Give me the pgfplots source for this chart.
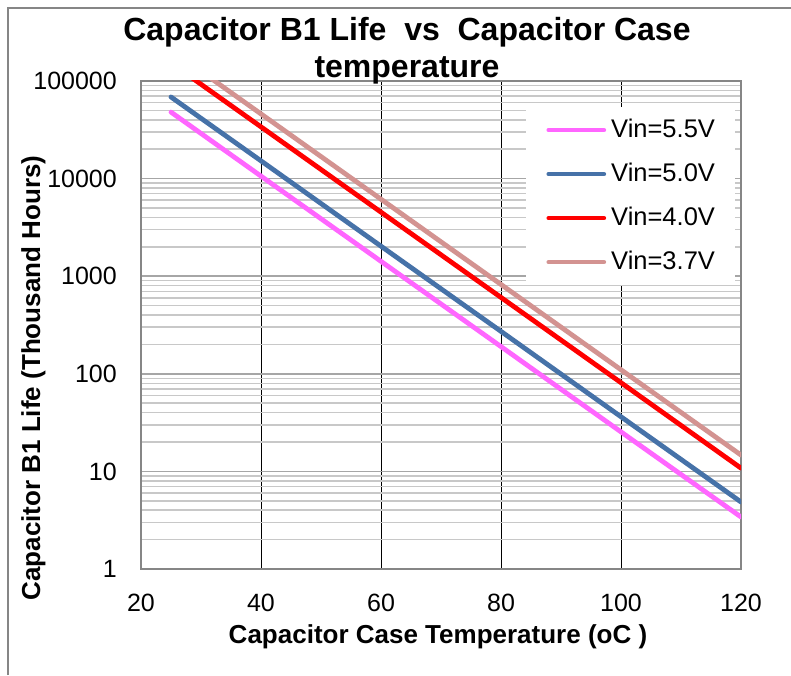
\documentclass[border=0pt]{standalone}
\usepackage{fontspec}
\setmainfont{Liberation Sans}
\usepackage{pgfplots}
\pgfplotsset{compat=1.18}
\definecolor{cpink}{HTML}{FF66FF}
\definecolor{cblue}{HTML}{4672A8}
\definecolor{cred}{HTML}{FF0000}
\definecolor{ctan}{HTML}{D39391}
\definecolor{frame}{HTML}{868686}
\definecolor{majg}{HTML}{A6A6A6}
\definecolor{ming}{HTML}{C8C8C8}
\begin{document}
\begin{tikzpicture}
\begin{axis}[
  at={(141pt,106pt)}, anchor=south west,
  scale only axis, width=600pt, height=488pt,
  xmin=20, xmax=120, ymin=1, ymax=100000,
  ymode=log,
  xtick={20,40,60,80,100,120},
  xticklabels={20,40,60,80,100,120},
  ytick={1,10,100,1000,10000,100000},
  yticklabels={1,10,100,1000,10000,100000},
  major tick length=0pt, minor tick length=0pt,
  tick label style={font=\fontsize{25}{30}\selectfont, inner sep=0pt},
  xticklabel style={anchor=north, yshift=-25pt},
  yticklabel style={anchor=east, xshift=-24pt},
  xmajorgrids, ymajorgrids, yminorgrids,
  x grid style={draw=black, line width=1pt},
  y grid style={draw=majg, line width=1.5pt},
  minor y grid style={draw=ming, line width=1.5pt},
  axis line style={draw=frame, line width=1.8pt},
  legend style={at={(0.642,0.947)}, anchor=north west, draw=none, fill=white,
    font=\fontsize{25.5}{30}\selectfont, inner xsep=20pt, inner ysep=12pt,
    row sep=22pt, column sep=5pt,
    nodes={inner sep=0pt, text height=18pt, text depth=4pt}},
  legend cell align=left,
  legend image code/.code={\draw[#1] (0pt,0pt) -- (55pt,0pt);},
  every axis plot/.append style={line width=4.8pt, line cap=round},
]
\addplot[cpink] coordinates {(25,48000) (40,10600) (60,1420) (80,190) (100,25.4) (120,3.41)};
\addlegendentry{Vin=5.5V}
\addplot[cblue] coordinates {(25,68600) (40,15200) (60,2030) (80,272) (100,36.3) (120,4.86)};
\addlegendentry{Vin=5.0V}
\addplot[cred] coordinates {(25,153000) (40,33900) (60,4530) (80,606) (100,81.1) (120,10.8)};
\addlegendentry{Vin=4.0V}
\addplot[ctan] coordinates {(25,208000) (40,46000) (60,6150) (80,823) (100,110) (120,14.7)};
\addlegendentry{Vin=3.7V}
\end{axis}
\draw[frame, line width=1.5pt] (7pt,667pt) -- (791pt,667pt);
\draw[frame, line width=1.5pt] (8pt,0pt) -- (8pt,667pt);
\node[anchor=base, font=\fontsize{32}{36}\selectfont\bfseries, inner sep=0pt] at (407pt,634pt) {Capacitor B1 Life\ \ vs\ \ Capacitor Case};
\node[anchor=base, font=\fontsize{32}{36}\selectfont\bfseries, inner sep=0pt] at (407pt,597pt) {temperature};
\node[anchor=base, font=\fontsize{26}{30}\selectfont\bfseries, inner sep=0pt] at (438pt,32pt) {Capacitor Case Temperature (oC )};
\node[rotate=90, anchor=base, font=\fontsize{26}{30}\selectfont\bfseries, inner sep=0pt] at (40pt,297pt) {Capacitor B1 Life (Thousand Hours)};
\pgfresetboundingbox
\useasboundingbox (0pt,0pt) rectangle (791pt,675pt);
\end{tikzpicture}
\end{document}
